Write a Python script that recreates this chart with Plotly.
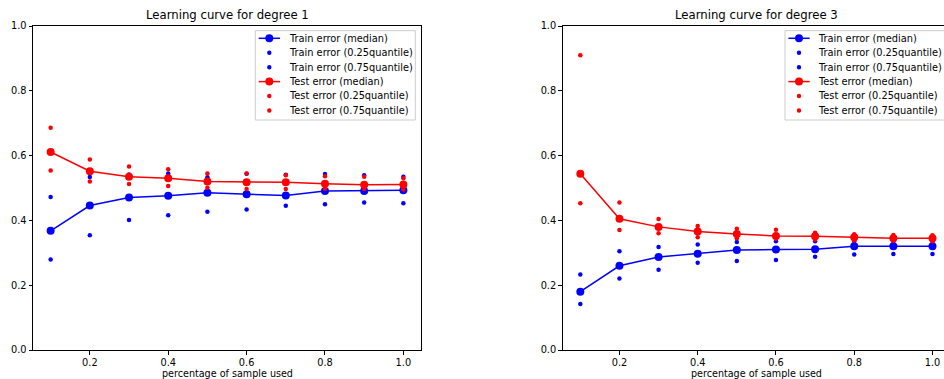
import plotly.graph_objects as go

# ---------------- data ----------------
fractions = [0.1, 0.2, 0.3, 0.4, 0.5, 0.6, 0.7, 0.8, 0.9, 1.0]

# degree 1
d1_train_median = [0.368, 0.446, 0.471, 0.476, 0.485, 0.481, 0.477, 0.491, 0.491, 0.493]
d1_train_q25 = [0.279, 0.354, 0.401, 0.416, 0.427, 0.434, 0.445, 0.450, 0.455, 0.453]
d1_train_q75 = [0.472, 0.534, 0.542, 0.545, 0.533, 0.544, 0.541, 0.543, 0.539, 0.535]
d1_test_median = [0.611, 0.552, 0.535, 0.530, 0.520, 0.518, 0.518, 0.513, 0.510, 0.511]
d1_test_q25 = [0.554, 0.520, 0.512, 0.506, 0.501, 0.497, 0.497, 0.498, 0.497, 0.495]
d1_test_q75 = [0.686, 0.588, 0.566, 0.558, 0.545, 0.545, 0.539, 0.536, 0.535, 0.530]

# degree 3
d3_train_median = [0.180, 0.260, 0.287, 0.297, 0.309, 0.310, 0.311, 0.320, 0.320, 0.320]
d3_train_q25 = [0.142, 0.221, 0.248, 0.269, 0.275, 0.278, 0.288, 0.295, 0.296, 0.296]
d3_train_q75 = [0.233, 0.305, 0.318, 0.326, 0.333, 0.336, 0.336, 0.336, 0.336, 0.336]
d3_test_median = [0.544, 0.405, 0.380, 0.366, 0.358, 0.352, 0.351, 0.348, 0.345, 0.345]
d3_test_q25 = [0.453, 0.370, 0.360, 0.348, 0.345, 0.343, 0.340, 0.338, 0.337, 0.336]
d3_test_q75 = [0.910, 0.455, 0.404, 0.383, 0.374, 0.371, 0.362, 0.357, 0.355, 0.354]

titles = ["Learning curve for degree 1", "Learning curve for degree 3"]
x_label = "percentage of sample used"
legend_labels = ["Train error (median)", "Train error (0.25quantile)", "Train error (0.75quantile)",
                 "Test error (median)", "Test error (0.25quantile)", "Test error (0.75quantile)"]
y_ticks = [0.0, 0.2, 0.4, 0.6, 0.8, 1.0]
x_ticks = [0.2, 0.4, 0.6, 0.8, 1.0]

BLUE = "#0000ff"
RED = "#ff0000"
FONT = "DejaVu Sans"

W, H = 944, 379
ML, MR, MT, MB = 33, 0, 26, 29
PW, PH = W - ML - MR, H - MT - MB


def px_x(px):
    return (px - ML) / PW


def px_y(py):
    return (MT + PH - py) / PH


fig = go.Figure()

datasets = [
    (d1_train_median, d1_train_q25, d1_train_q75, d1_test_median, d1_test_q25, d1_test_q75),
    (d3_train_median, d3_train_q25, d3_train_q75, d3_test_median, d3_test_q25, d3_test_q75),
]

for i, ds in enumerate(datasets):
    xa = "x" if i == 0 else "x2"
    ya = "y" if i == 0 else "y2"
    colors = [BLUE, BLUE, BLUE, RED, RED, RED]
    for j, (vals, col) in enumerate(zip(ds, colors)):
        if j % 3 == 0:
            fig.add_trace(go.Scatter(x=fractions, y=vals, mode="lines+markers", xaxis=xa, yaxis=ya,
                                     line=dict(color=col, width=1.5),
                                     marker=dict(color=col, size=8), showlegend=False,
                                     name=legend_labels[j]))
        else:
            fig.add_trace(go.Scatter(x=fractions, y=vals, mode="markers", xaxis=xa, yaxis=ya,
                                     marker=dict(color=col, size=4.5), showlegend=False,
                                     name=legend_labels[j]))

axis_common = dict(showgrid=False, zeroline=False, showline=True, linecolor="black", linewidth=1,
                   ticks="outside", ticklen=3.5, tickwidth=1, tickcolor="black",
                   tickfont=dict(family=FONT, size=9.8, color="black"), tickformat=".1f")

# left axes: 33..421 px ; right axes: 562.7.. (cut at 944)
fig.update_layout(
    xaxis=dict(domain=[px_x(33), px_x(421)], range=[0.055, 1.045], tickvals=x_ticks, mirror=True,
               anchor="y", **axis_common),
    yaxis=dict(domain=[0, 1], range=[0, 1], tickvals=y_ticks, mirror=True, anchor="x", **axis_common),
    xaxis2=dict(domain=[px_x(562.7), 1], range=[0.055, 0.055 + (944 - 562.7) / 391.3], tickvals=x_ticks,
                mirror=True, anchor="y2", **axis_common),
    yaxis2=dict(domain=[0, 1], range=[0, 1], tickvals=y_ticks, mirror=False, anchor="x2", **axis_common),
)

annotations = []
shapes = []
centers = [227, 756.3]
for i, cx in enumerate(centers):
    annotations.append(dict(xref="paper", yref="paper", x=px_x(cx), y=px_y(15), text=titles[i],
                            showarrow=False, xanchor="center", yanchor="middle",
                            font=dict(family=FONT, size=11.7, color="black")))
    annotations.append(dict(xref="paper", yref="paper", x=px_x(cx), y=px_y(373.6), text=x_label,
                            showarrow=False, xanchor="center", yanchor="middle",
                            font=dict(family=FONT, size=9.6, color="black")))

# legends
row_y = [38.3, 52.7, 67.2, 81.6, 96.0, 110.5]
for ax_left in [33, 562.7]:
    bx0 = ax_left + 222.3
    bx1 = bx0 + 160
    shapes.append(dict(type="rect", xref="paper", yref="paper", x0=px_x(bx0), x1=px_x(bx1),
                       y0=px_y(120), y1=px_y(30.7), line=dict(color="#cccccc", width=1),
                       fillcolor="rgba(255,255,255,0.8)", layer="above"))
    for j, ry in enumerate(row_y):
        col = BLUE if j < 3 else RED
        mx = bx0 + 14
        if j % 3 == 0:
            shapes.append(dict(type="line", xref="paper", yref="paper", x0=px_x(bx0 + 3.4),
                               x1=px_x(bx0 + 24.7), y0=px_y(ry), y1=px_y(ry),
                               line=dict(color=col, width=1.5), layer="above"))
            r = 4
        else:
            r = 2.2
        shapes.append(dict(type="circle", xref="paper", yref="paper", xsizemode="pixel",
                           ysizemode="pixel", xanchor=px_x(mx), yanchor=px_y(ry),
                           x0=-r, x1=r, y0=-r, y1=r, fillcolor=col, line=dict(width=0),
                           layer="above"))
        annotations.append(dict(xref="paper", yref="paper", x=px_x(bx0 + 31.4), y=px_y(ry),
                                text=legend_labels[j], showarrow=False, xanchor="left",
                                yanchor="middle", font=dict(family=FONT, size=9.8, color="black")))

fig.update_layout(
    width=W, height=H,
    margin=dict(l=ML, r=MR, t=MT, b=MB, autoexpand=False),
    paper_bgcolor="white", plot_bgcolor="white",
    annotations=annotations, shapes=shapes, showlegend=False,
)

fig.write_html("out.html", config={"displayModeBar": False},
               post_script="document.body.style.margin='0';document.body.style.overflow='hidden';")
